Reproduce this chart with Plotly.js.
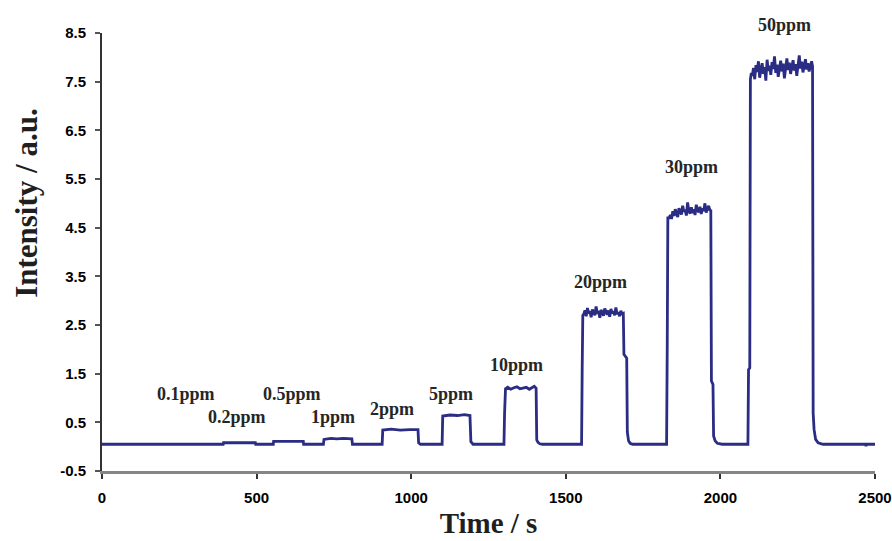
<!DOCTYPE html>
<html>
<head>
<meta charset="utf-8">
<script src="https://cdn.plot.ly/plotly-3.0.1.min.js"></script>
<style>
  html, body { margin: 0; padding: 0; background: #ffffff; }
  #chart { width: 892px; height: 541px; }
</style>
</head>
<body>
<div id="chart"></div>
<script>
// Sensor response to increasing analyte concentration (time in s, intensity in a.u.)

// Baseline with the low-concentration steps (0.1 – 5 ppm)
const tLow = [0, 200, 201, 318, 319, 392, 393, 496, 497, 554, 555, 651, 652,
  716, 718, 740, 760, 780, 808, 810, 906, 908, 935, 965, 995, 1022, 1024, 1030,
  1100, 1102, 1125, 1150, 1172, 1190, 1193, 1200, 1298];
const yLow = [0.05, 0.05, 0.06, 0.06, 0.05, 0.05, 0.08, 0.08, 0.05, 0.05, 0.11, 0.11, 0.05,
  0.05, 0.15, 0.17, 0.16, 0.17, 0.16, 0.05, 0.05, 0.34, 0.36, 0.34, 0.35, 0.35, 0.08, 0.05,
  0.05, 0.63, 0.65, 0.64, 0.66, 0.64, 0.10, 0.05, 0.05];

// 10 ppm pulse
const t10 = [1300, 1302, 1305, 1312, 1322, 1332, 1342, 1352, 1362, 1372, 1382, 1392, 1398,
  1404, 1406, 1410, 1416, 1424];
const y10 = [0.05, 0.69, 1.19, 1.22, 1.18, 1.21, 1.23, 1.19, 1.20, 1.22, 1.18, 1.21, 1.24,
  1.20, 0.14, 0.09, 0.06, 0.05];

// 20 ppm pulse
const t20 = [1551, 1553, 1555, 1558, 1562, 1566, 1570, 1574, 1578, 1582, 1586, 1590, 1594,
  1598, 1602, 1606, 1610, 1614, 1618, 1622, 1626, 1630, 1634, 1638, 1642, 1646, 1650, 1654,
  1658, 1662, 1666, 1670, 1674, 1678, 1682, 1686, 1688, 1697, 1699, 1703, 1708, 1716];
const y20 = [0.05, 1.60, 2.70, 2.72, 2.80, 2.68, 2.85, 2.74, 2.78, 2.66, 2.82, 2.76, 2.70,
  2.88, 2.73, 2.79, 2.65, 2.81, 2.75, 2.69, 2.84, 2.77, 2.71, 2.80, 2.67, 2.83, 2.74, 2.78,
  2.70, 2.86, 2.72, 2.76, 2.68, 2.79, 2.73, 2.74, 1.90, 1.82, 0.30, 0.12, 0.07, 0.05];

// 30 ppm pulse
const t30 = [1826, 1828, 1830, 1834, 1838, 1842, 1846, 1850, 1854, 1858, 1862, 1866, 1870,
  1874, 1878, 1882, 1886, 1890, 1894, 1898, 1902, 1906, 1910, 1914, 1918, 1922, 1926, 1930,
  1934, 1938, 1942, 1946, 1950, 1954, 1958, 1962, 1966, 1969, 1971, 1976, 1978, 1983, 1990, 2006];
const y30 = [0.05, 2.00, 4.70, 4.70, 4.76, 4.68, 4.84, 4.74, 4.88, 4.79, 4.72, 4.90, 4.81,
  4.77, 4.95, 4.83, 4.86, 4.75, 5.02, 4.84, 4.79, 4.92, 4.80, 4.88, 4.76, 4.97, 4.85, 4.82,
  4.93, 4.78, 4.90, 4.84, 5.00, 4.81, 4.89, 4.95, 4.86, 4.85, 1.35, 1.28, 0.22, 0.12, 0.07, 0.05];

// 50 ppm pulse
const t50 = [2089, 2091, 2095, 2097, 2100, 2103, 2107, 2111, 2115, 2119, 2123, 2127, 2131,
  2135, 2139, 2143, 2147, 2151, 2155, 2159, 2163, 2167, 2171, 2175, 2179, 2183, 2187, 2191,
  2195, 2199, 2203, 2207, 2211, 2215, 2219, 2223, 2227, 2231, 2235, 2239, 2243, 2247, 2251,
  2255, 2259, 2263, 2267, 2271, 2275, 2279, 2283, 2287, 2291, 2295, 2298, 2300, 2303, 2308,
  2316, 2332];
const y50 = [0.05, 1.58, 1.62, 7.55, 7.68, 7.62, 7.78, 7.55, 7.84, 7.70, 7.92, 7.58, 7.74,
  7.88, 7.66, 7.80, 7.52, 7.95, 7.72, 7.83, 7.64, 7.90, 7.76, 8.02, 7.68, 7.85, 7.60, 7.79,
  7.93, 7.71, 7.87, 7.57, 7.82, 7.98, 7.74, 7.89, 7.66, 7.81, 7.94, 7.73, 7.86, 7.62, 7.84,
  8.04, 7.77, 7.91, 7.69, 7.83, 7.96, 7.75, 7.88, 7.71, 7.85, 7.92, 7.82, 0.69, 0.35, 0.15,
  0.08, 0.05];

// Recovery baseline to the end of the run
const tEnd = [2400, 2470, 2471, 2472, 2500];
const yEnd = [0.05, 0.05, 0.01, 0.05, 0.05];

// Concentration labels and where they sit (time, intensity)
const concLabels = ['0.1ppm', '0.2ppm', '0.5ppm', '1ppm', '2ppm', '5ppm', '10ppm', '20ppm', '30ppm', '50ppm'];
const labelT = [272, 437, 615, 748, 938, 1129, 1340, 1611, 1905, 2206];
const labelY = [1.08, 0.61, 1.08, 0.61, 0.77, 1.08, 1.68, 3.39, 5.75, 8.5];

// Axis ticks
const xTicks = [0, 500, 1000, 1500, 2000, 2500];
const yTicks = [-0.5, 0.5, 1.5, 2.5, 3.5, 4.5, 5.5, 6.5, 7.5, 8.5];

const time = [].concat(tLow, t10, t20, t30, t50, tEnd);
const intensity = [].concat(yLow, y10, y20, y30, y50, yEnd);

const serif = '"Liberation Serif", "Times New Roman", serif';
const narrow = '"Liberation Sans Narrow", "Arial Narrow", "Liberation Sans", sans-serif';

const trace = {
  type: 'scatter',
  mode: 'lines',
  x: time,
  y: intensity,
  line: { color: '#2b2c84', width: 2.8 },
  hoverinfo: 'x+y'
};

const annotations = concLabels.map((txt, i) => ({
  x: labelT[i],
  y: labelY[i],
  xref: 'x',
  yref: 'y',
  // the top label sits just above the plotting area
  yshift: i === concLabels.length - 1 ? 8 : 0,
  text: '<b>' + txt + '</b>',
  showarrow: false,
  font: { family: serif, size: 18, color: '#262626' }
}));

// Vertical axis title, placed beside the tick labels
annotations.push({
  xref: 'paper',
  yref: 'paper',
  x: -0.097,
  y: 0.61,
  xanchor: 'center',
  yanchor: 'middle',
  textangle: -90,
  text: '<b>Intensity / a.u.</b>',
  showarrow: false,
  font: { family: serif, size: 31, color: '#1f1f1f' }
});

const layout = {
  width: 892,
  height: 541,
  margin: { l: 102, r: 17, t: 33, b: 70 },
  paper_bgcolor: '#ffffff',
  plot_bgcolor: '#ffffff',
  showlegend: false,
  xaxis: {
    range: [0, 2500],
    tickvals: xTicks,
    ticktext: xTicks.map(String),
    showgrid: false,
    zeroline: false,
    showline: true,
    linecolor: '#858585',
    linewidth: 3,
    ticks: 'outside',
    ticklen: 5,
    tickwidth: 2,
    tickcolor: '#333333',
    ticklabelstandoff: 6,
    ticklabeloverflow: 'allow',
    tickfont: { family: narrow, size: 15, color: '#000000', weight: 'bold' },
    title: {
      text: '<b>Time / s</b>',
      font: { family: serif, size: 29, color: '#1f1f1f' },
      standoff: 8
    }
  },
  yaxis: {
    range: [-0.5, 8.5],
    tickvals: yTicks,
    ticktext: yTicks.map(v => v.toFixed(1)),
    showgrid: false,
    zeroline: false,
    showline: true,
    linecolor: '#333333',
    linewidth: 2,
    ticks: 'outside',
    ticklen: 5,
    tickwidth: 2,
    tickcolor: '#555555',
    ticklabelstandoff: 6,
    tickfont: { family: narrow, size: 15, color: '#000000', weight: 'bold' }
  },
  annotations: annotations
};

Plotly.newPlot('chart', [trace], layout, { displayModeBar: false, staticPlot: true });
</script>
</body>
</html>
